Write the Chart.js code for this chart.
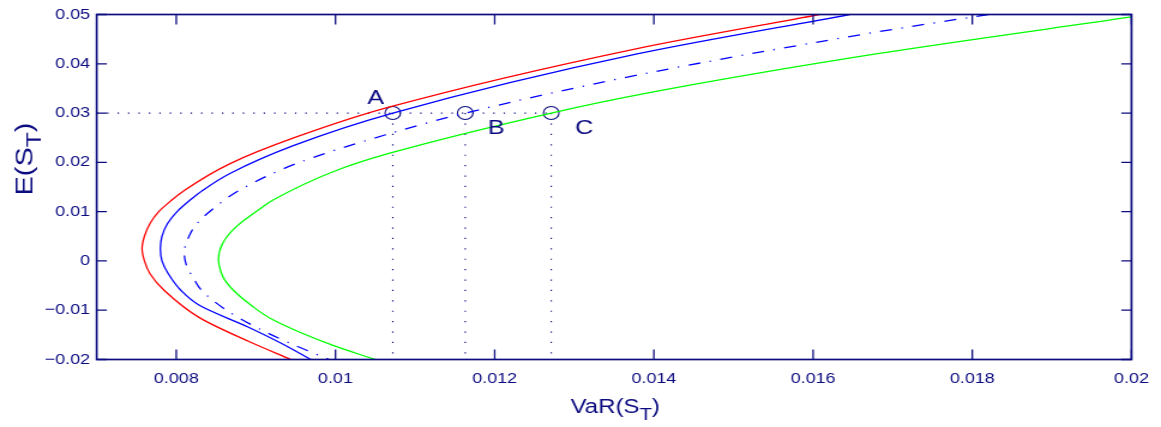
<!DOCTYPE html>
<html>
<head>
<meta charset="utf-8">
<script src="https://cdn.jsdelivr.net/npm/chart.js@4"></script>
<style>
html, body { margin: 0; padding: 0; background: #fff; overflow: hidden; }
canvas { display: block; }
</style>
</head>
<body>
<!-- figure is drawn a bit narrower and stretched sideways, like the original export -->
<canvas id="chart" width="968" height="427" style="width:1161px;height:427px"></canvas>
<script>
// curves (VaR on x, expected value on y)
const redY = [0.05, 0.0431, 0.0312, 0.0251, 0.0197, 0.0143, 0.0123, 0.01, 0.0076, 0.005, 0.0025, 0, -0.0026, -0.006, -0.0115, -0.0164, -0.02];
const redX = [0.01608, 0.01379, 0.01067, 0.0095, 0.00867, 0.0081, 0.00794, 0.00778, 0.00767, 0.0076, 0.00757, 0.0076, 0.00767, 0.00785, 0.00829, 0.00892, 0.00944];

const blueY = [0.05, 0.042, 0.03, 0.0234, 0.0178, 0.0143, 0.0123, 0.01, 0.0076, 0.005, 0.0025, 0, -0.0026, -0.006, -0.009, -0.0134, -0.0168, -0.02];
const blueX = [0.01646, 0.01379, 0.01072, 0.00947, 0.00868, 0.00833, 0.00817, 0.00801, 0.00789, 0.00782, 0.0078, 0.00782, 0.0079, 0.00806, 0.00829, 0.0089, 0.00933, 0.00969];

const dashY = [0.05, 0.0461, 0.0377, 0.03, 0.0256, 0.0197, 0.0143, 0.0103, 0.0076, 0.0052, 0.0016, -0.001, -0.0036, -0.006, -0.0101, -0.0136, -0.0165, -0.02];
const dashX = [0.0182, 0.01667, 0.01379, 0.01163, 0.01063, 0.0095, 0.00879, 0.00844, 0.00826, 0.008166, 0.0081, 0.00813, 0.00822, 0.00832, 0.00864, 0.00902, 0.0094, 0.00992];

const greenY = [0.0495, 0.042, 0.0338, 0.03, 0.0218, 0.0181, 0.0123, 0.0109, 0.0069, 0.0035, 0.0003, -0.0022, -0.0039, -0.006, -0.009, -0.012, -0.0171, -0.02];
const greenX = [0.02, 0.01679, 0.01383, 0.01271, 0.01067, 0.00997, 0.00921, 0.00908, 0.00875, 0.00858, 0.00853, 0.00856, 0.00861, 0.00872, 0.00894, 0.00922, 0.00996, 0.0105];

// marked portfolios
const markX = [0.01072, 0.01163, 0.01271];
const markY = [0.03, 0.03, 0.03];
const markNames = ['A', 'B', 'C'];

// axes
const xMin = 0.007, xMax = 0.02;
const yMin = -0.02, yMax = 0.05;
const xTicks = [0.008, 0.01, 0.012, 0.014, 0.016, 0.018, 0.02];
const xTickLabels = ['0.008', '0.01', '0.012', '0.014', '0.016', '0.018', '0.02'];
const yTicks = [-0.02, -0.01, 0, 0.01, 0.02, 0.03, 0.04, 0.05];
const yTickLabels = ['\u22120.02', '\u22120.01', '0', '0.01', '0.02', '0.03', '0.04', '0.05'];

const NAVY = '#0c0c80';
const FONT = "'Liberation Sans', Arial, Helvetica, sans-serif";

function pts(xs, ys) {
    return xs.map((v, i) => ({x: v, y: ys[i]}));
}

// curves run along y, so a monotone spline on the y axis keeps them smooth
function curve(xs, ys, color, dash) {
    return {
        data: pts(xs, ys),
        borderColor: color,
        borderWidth: 1.3,
        borderDash: dash || [],
        pointRadius: 0,
        cubicInterpolationMode: 'monotone',
        fill: false
    };
}

function dotted(data, dash) {
    return {
        data: data,
        borderColor: NAVY,
        borderWidth: 1.2,
        borderDash: dash,
        pointRadius: 0,
        tension: 0,
        fill: false
    };
}

const datasets = [
    curve(redX, redY, '#ff0000'),
    curve(blueX, blueY, '#0000ff'),
    curve(dashX, dashY, '#0000ff', [10, 8, 1.2, 8]),
    curve(greenX, greenY, '#00ff00'),
    // horizontal guide at the target return, from the axis to the last point
    dotted([{x: xMin, y: markY[2]}, {x: markX[2], y: markY[2]}], [1.2, 7.5]),
    // drop lines from each marked point
    ...markX.map((v, i) => dotted([{x: v, y: markY[i]}, {x: v, y: yMin}], [1.2, 9.2])),
    {
        data: pts(markX, markY),
        showLine: false,
        pointStyle: 'circle',
        pointRadius: 6.5,
        pointBorderWidth: 1.1,
        pointBorderColor: NAVY,
        pointBackgroundColor: 'rgba(0,0,0,0)'
    }
];

function drawSub(ctx, head, sub, tail, cx, base) {
    const big = '20px ' + FONT, small = '17px ' + FONT;
    ctx.textAlign = 'left';
    ctx.font = big;
    const w1 = ctx.measureText(head).width;
    const w3 = ctx.measureText(tail).width;
    ctx.font = small;
    const w2 = ctx.measureText(sub).width;
    const left = cx - (w1 + w2 + w3) / 2;
    ctx.font = big;
    ctx.fillText(head, left, base);
    ctx.font = small;
    ctx.fillText(sub, left + w1, base + 7);
    ctx.font = big;
    ctx.fillText(tail, left + w1 + w2, base);
}

// axis box, inward ticks, titles with subscripts, point names
const decorations = {
    id: 'decorations',
    afterDraw(chart) {
        const {ctx, chartArea: a, scales: {x, y}} = chart;
        ctx.save();
        ctx.strokeStyle = NAVY;
        ctx.lineWidth = 1.7;
        ctx.strokeRect(a.left, a.top, a.right - a.left, a.bottom - a.top);

        ctx.lineWidth = 1.3;
        ctx.beginPath();
        xTicks.forEach(v => {
            const px = x.getPixelForValue(v);
            ctx.moveTo(px, a.bottom); ctx.lineTo(px, a.bottom - 10);
            ctx.moveTo(px, a.top); ctx.lineTo(px, a.top + 10);
        });
        yTicks.forEach(v => {
            const py = y.getPixelForValue(v);
            ctx.moveTo(a.left, py); ctx.lineTo(a.left + 8.5, py);
            ctx.moveTo(a.right, py); ctx.lineTo(a.right - 8.5, py);
        });
        ctx.stroke();

        ctx.fillStyle = NAVY;
        ctx.textBaseline = 'alphabetic';

        // x title: VaR(S_T)
        drawSub(ctx, 'VaR(S', 'T', ')', 513, 413);
        // y title: E(S_T), rotated and drawn longer to match the export
        ctx.save();
        ctx.translate(27, 159);
        ctx.rotate(-Math.PI / 2);
        ctx.scale(1.45, 1);
        drawSub(ctx, 'E(S', 'T', ')', 0, 0);
        ctx.restore();

        // point names
        const offs = [[-14.2, -14.5], [25.8, 15.5], [27.5, 15.5]];
        ctx.font = '21px ' + FONT;
        ctx.textAlign = 'center';
        ctx.textBaseline = 'middle';
        markNames.forEach((n, i) => {
            const px = x.getPixelForValue(markX[i]);
            const py = y.getPixelForValue(markY[i]);
            ctx.fillText(n, px + offs[i][0], py + offs[i][1]);
        });
        ctx.restore();
    }
};

new Chart(document.getElementById('chart'), {
    type: 'line',
    data: {datasets: datasets},
    options: {
        indexAxis: 'y',
        responsive: false,
        animation: false,
        devicePixelRatio: 1,
        layout: {padding: {top: 14, right: 21, bottom: 0, left: 0}},
        plugins: {legend: {display: false}, tooltip: {enabled: false}},
        scales: {
            x: {
                type: 'linear',
                min: xMin,
                max: xMax,
                grid: {display: false, drawTicks: false},
                border: {display: false},
                afterBuildTicks: s => { s.ticks = xTicks.map(v => ({value: v})); },
                afterFit: s => { s.height = 67.5; },
                ticks: {
                    color: NAVY,
                    font: {family: FONT, size: 15},
                    padding: 10,
                    maxRotation: 0,
                    autoSkip: false,
                    callback: (v, i) => xTickLabels[i]
                }
            },
            y: {
                type: 'linear',
                min: yMin,
                max: yMax,
                grid: {display: false, drawTicks: false},
                border: {display: false},
                afterBuildTicks: s => { s.ticks = yTicks.map(v => ({value: v})); },
                afterFit: s => { s.width = 80.6; },
                ticks: {
                    color: NAVY,
                    font: {family: FONT, size: 15},
                    padding: 5.5,
                    autoSkip: false,
                    callback: (v, i) => yTickLabels[i]
                }
            }
        }
    },
    plugins: [decorations]
});
</script>
</body>
</html>
